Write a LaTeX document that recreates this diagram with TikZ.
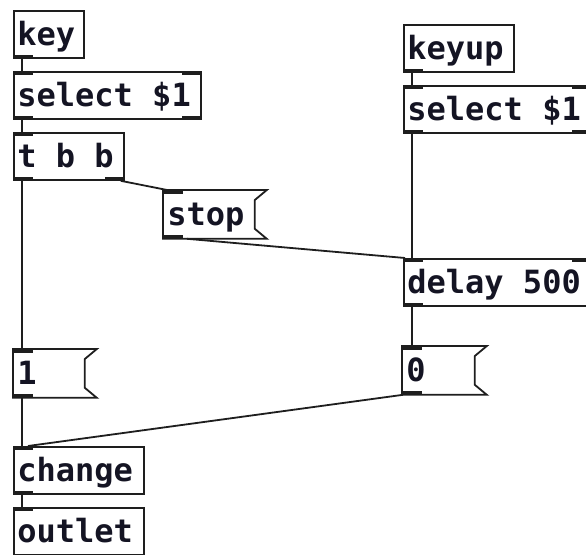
\documentclass[tikz,border=0pt]{standalone}
\usepackage{fontspec}
\setmonofont{DejaVu Sans Mono}
\definecolor{pdline}{RGB}{30,30,30}
\definecolor{pdtext}{RGB}{20,20,35}
\newcommand\pdfont{\fontsize{32pt}{36pt}\ttfamily\bfseries}
% a space as wide as one monospaced cell
\newcommand\pdsp{\hspace*{0.602em}}
\tikzset{
  pdbox/.style={anchor=north west, inner xsep=3.5pt, inner ysep=7.5pt,
    text height=27.5pt, text depth=4.5pt, align=left, text=pdtext,
    font=\pdfont, line width=1.8pt, draw=pdline},
  pdmsg/.style={pdbox, draw=none},
  wire/.style={line width=1.8pt, draw=pdline},
  port/.style={fill=pdline, draw=none}
}
% inlet / outlet marks
\newcommand\pdinL[1]{\fill[port] (#1.north west) rectangle ([xshift=20pt,yshift=-3.5pt]#1.north west);}
\newcommand\pdinR[1]{\fill[port] ([xshift=-20pt]#1.north east) rectangle ([yshift=-3.5pt]#1.north east);}
\newcommand\pdoutL[1]{\fill[port] ([yshift=3.5pt]#1.south west) rectangle ([xshift=20pt]#1.south west);}
\newcommand\pdoutR[1]{\fill[port] ([xshift=-20pt,yshift=3.5pt]#1.south east) rectangle (#1.south east);}
% message box outline with the notched right side
\newcommand\pdflag[1]{\draw[wire, line join=miter] (#1.north west) -- (#1.north east)
  -- ([xshift=-12pt,yshift=-10pt]#1.north east) -- ([xshift=-12pt,yshift=10pt]#1.south east)
  -- (#1.south east) -- (#1.south west) -- cycle;}
\begin{document}
\begin{tikzpicture}[x=1pt,y=-1pt]
\path[use as bounding box, clip] (0,0) rectangle (586,554);
\fill[white] (0,0) rectangle (586,554);

% left chain
\node[pdbox, text width=63pt]  (key)    at (13,10)  {key};
\node[pdbox, text width=180pt] (selA)   at (13,71)  {select\pdsp\$1};
\node[pdbox, text width=103pt] (tbb)    at (13,132) {t\pdsp b\pdsp b};
\node[pdmsg, text width=95pt]  (stop)   at (163,190) {stop};
\node[pdmsg, text width=75pt]  (one)    at (13,349) {1};
\node[pdbox, text width=123pt] (change) at (13,446) {change};
\node[pdbox, text width=123pt] (outl)   at (13,507) {outlet};

% right chain
\node[pdbox, text width=103pt] (keyup)  at (403,24)  {keyup};
\node[pdbox, text width=180pt] (selB)   at (403,85)  {select\pdsp\$1};
\node[pdbox, text width=180pt] (dly)    at (403,258) {delay\pdsp 500};
\node[pdmsg, text width=76pt]  (zero)   at (402,346) {0};

\pdflag{stop}
\pdflag{one}
\pdflag{zero}

% connections
\draw[wire] ([xshift=9pt]key.south west) -- ([xshift=9pt]selA.north west);
\draw[wire] ([xshift=9pt]selA.south west) -- ([xshift=9pt]tbb.north west);
\draw[wire] ([xshift=9pt]tbb.south west) -- ([xshift=9pt]one.north west);
\draw[wire] ([xshift=9pt]one.south west) -- ([xshift=9pt]change.north west);
\draw[wire] ([xshift=9pt]change.south west) -- ([xshift=9pt]outl.north west);
\draw[wire] ([xshift=-4pt]tbb.south east) -- ([xshift=4pt]stop.north west);
\draw[wire] ([xshift=24pt]stop.south west) -- ([xshift=2pt]dly.north west);
\draw[wire] ([xshift=9pt]keyup.south west) -- ([xshift=9pt]selB.north west);
\draw[wire] ([xshift=9pt]selB.south west) -- ([xshift=9pt]dly.north west);
\draw[wire] ([xshift=9pt]dly.south west) -- ([xshift=10pt]zero.north west);
\draw[wire] ([xshift=1pt]zero.south west) -- ([xshift=15pt]change.north west);

% inlets and outlets
\pdoutL{key}
\pdinL{selA}\pdinR{selA}\pdoutL{selA}\pdoutR{selA}
\pdinL{tbb}\pdoutL{tbb}\pdoutR{tbb}
\pdinL{stop}\pdoutL{stop}
\pdinL{one}\pdoutL{one}
\pdinL{change}\pdoutL{change}
\pdinL{outl}
\pdoutL{keyup}
\pdinL{selB}\pdinR{selB}\pdoutL{selB}\pdoutR{selB}
\pdinL{dly}\pdinR{dly}\pdoutL{dly}
\pdinL{zero}\pdoutL{zero}
\end{tikzpicture}
\end{document}
